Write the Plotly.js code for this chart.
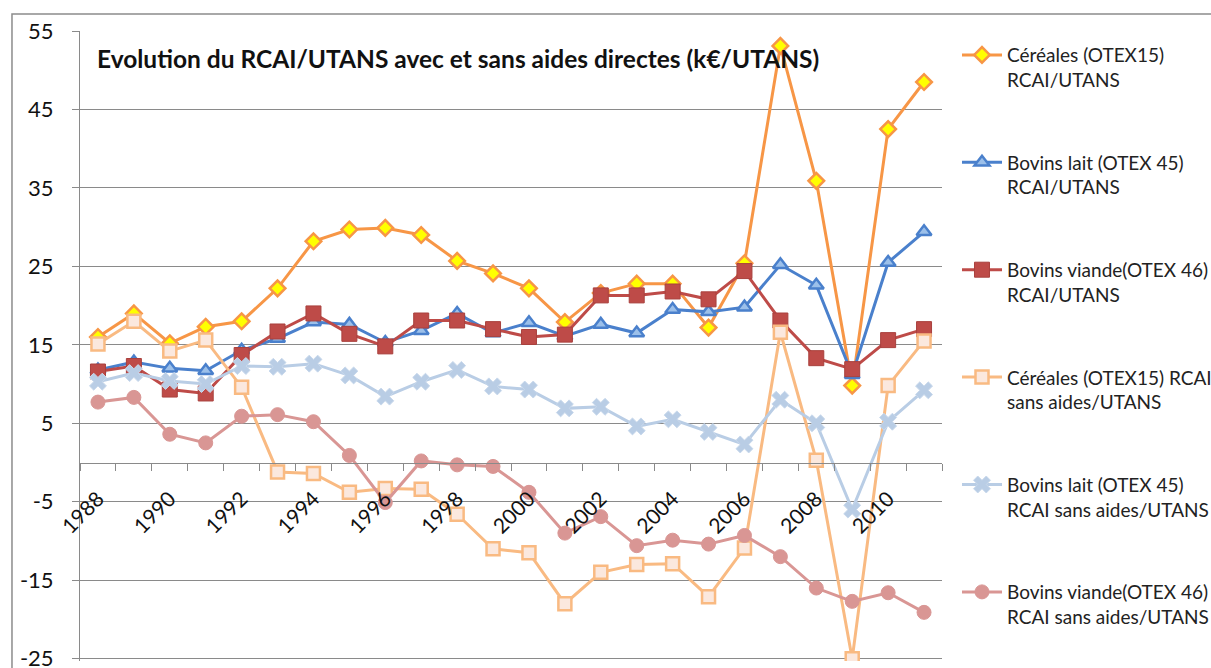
<!DOCTYPE html>
<html>
<head>
<meta charset="utf-8">
<script src="https://cdn.plot.ly/plotly-3.0.1.min.js"></script>
<style>
html,body{margin:0;padding:0;background:#fff;}
#chart{width:1211px;height:668px;}
</style>
</head>
<body>
<div id="chart"></div>
<script>
var years = [1988,1989,1990,1991,1992,1993,1994,1995,1996,1997,1998,1999,2000,2001,2002,2003,2004,2005,2006,2007,2008,2009,2010,2011];

var cerealesRcai = [16.0,19.0,15.2,17.3,18.0,22.2,28.2,29.7,29.9,29.0,25.7,24.1,22.2,17.9,21.6,22.8,22.8,17.2,25.4,53.1,35.9,9.8,42.5,48.5];
var laitRcai = [11.8,12.8,12.0,11.7,14.3,15.8,17.9,17.6,15.3,16.8,19.0,16.5,17.8,16.1,17.6,16.5,19.5,19.2,19.8,25.2,22.6,11.2,25.5,29.4];
var viandeRcai = [11.6,12.3,9.3,8.8,13.7,16.7,19.0,16.4,14.8,18.1,18.1,17.0,16.0,16.3,21.3,21.3,21.8,20.8,24.4,18.1,13.3,11.9,15.6,17.0];
var cerealesSans = [15.1,18.0,14.2,15.6,9.6,-1.2,-1.4,-3.8,-3.3,-3.4,-6.6,-11.0,-11.5,-18.0,-14.0,-13.0,-12.9,-17.1,-10.9,16.6,0.3,-25.0,9.8,15.5];
var laitSans = [10.3,11.4,10.4,10.0,12.3,12.2,12.6,11.1,8.4,10.3,11.8,9.7,9.3,6.9,7.1,4.6,5.5,3.9,2.3,8.0,5.0,-6.0,5.2,9.2];
var viandeSans = [7.7,8.3,3.6,2.5,5.9,6.1,5.2,0.9,-5.1,0.2,-0.3,-0.5,-3.8,-9.0,-6.9,-10.6,-9.9,-10.4,-9.3,-12.0,-16.0,-17.7,-16.6,-19.1];

var seriesNames = [
  "Céréales (OTEX15)<br>RCAI/UTANS",
  "Bovins lait (OTEX 45)<br>RCAI/UTANS",
  "Bovins viande(OTEX 46)<br>RCAI/UTANS",
  "Céréales (OTEX15) RCAI<br>sans aides/UTANS",
  "Bovins lait (OTEX 45)<br>RCAI sans aides/UTANS",
  "Bovins viande(OTEX 46)<br>RCAI sans aides/UTANS"
];

var xTickVals = [1988,1990,1992,1994,1996,1998,2000,2002,2004,2006,2008,2010];
var xTickText = ["1988","1990","1992","1994","1996","1998","2000","2002","2004","2006","2008","2010"];
var yTickVals = [-25,-15,-5,5,15,25,35,45,55];
var yTickText = ["-25","-15","-5","5","15","25","35","45","55"];

var titleText = "Evolution du RCAI/UTANS avec et sans aides directes (k€/UTANS)";

function tr(y, name, lineColor, marker, grp) {
  return {
    x: years, y: y, name: name, type: 'scatter', mode: 'lines+markers',
    line: {color: lineColor, width: 3},
    marker: marker, legendgroup: grp
  };
}

var data = [
  tr(cerealesRcai, seriesNames[0], '#F79646', {symbol:'diamond', size:12, color:'#FFFF00', line:{color:'#F79646', width:2.5}}, 'g1'),
  tr(laitRcai, seriesNames[1], '#4A80CC', {symbol:'triangle-up', size:13, color:'#9CC0EA', line:{color:'#4A80CC', width:2.5}}, 'g2'),
  tr(viandeRcai, seriesNames[2], '#BE4B48', {symbol:'square', size:15, color:'#BE4B48', line:{color:'#A9403D', width:1}}, 'g3'),
  tr(cerealesSans, seriesNames[3], '#F9BA82', {symbol:'square', size:13, color:'#FBE8DE', line:{color:'#F9BA82', width:2.5}}, 'g4'),
  tr(laitSans, seriesNames[4], '#B9CDE5', {symbol:'x', size:15, color:'#B9CDE5', line:{color:'#C9D9EC', width:1}}, 'g5'),
  tr(viandeSans, seriesNames[5], '#D99694', {symbol:'circle', size:14, color:'#D99694', line:{color:'#D99694', width:1}}, 'g6')
];

var layout = {
  width: 1211, height: 668,
  margin: {l: 80, r: 269, t: 31, b: 6.6, autoexpand: false},
  paper_bgcolor: '#ffffff', plot_bgcolor: '#ffffff',
  font: {family: 'Lato, "Open Sans", sans-serif', color: '#1a1a1a', size: 20},
  title: {
    text: '<b>' + titleText + '</b>',
    xref: 'paper', x: 0.0197, xanchor: 'left',
    yref: 'paper', y: 0.955, yanchor: 'middle',
    font: {family: 'Lato, "Open Sans", sans-serif', size: 24.5, color: '#111111'}
  },
  showlegend: true,
  legend: {
    x: 1.0174, xanchor: 'left', y: 0.992, yanchor: 'top',
    font: {family: 'Lato, "Open Sans", sans-serif', size: 19, color: '#222222'},
    valign: 'top', tracegroupgap: 55, itemwidth: 40,
    bgcolor: 'rgba(0,0,0,0)'
  },
  xaxis: {
    type: 'linear', range: [1987.5, 2011.5],
    anchor: 'free', position: 0.3137,
    showgrid: false, zeroline: false,
    showline: true, linecolor: '#8a8a8a', linewidth: 1,
    tickmode: 'array', tickvals: xTickVals, ticktext: xTickText,
    ticks: 'outside', ticklen: 14, tickcolor: 'rgba(0,0,0,0)', tickangle: -45,
    tickfont: {family: 'Lato, "Open Sans", sans-serif', size: 21, color: '#111111'},
    minor: {tick0: 1987.5, dtick: 1, ticks: 'outside', ticklen: 7, tickcolor: '#8a8a8a', tickwidth: 1, showgrid: false}
  },
  yaxis: {
    range: [-25.3, 55],
    tickmode: 'array', tickvals: yTickVals, ticktext: yTickText,
    ticklabeloverflow: 'allow',
    showgrid: true, gridcolor: '#8a8a8a', gridwidth: 1,
    zeroline: false,
    showline: true, linecolor: '#8a8a8a', linewidth: 1,
    ticks: 'outside', ticklen: 7, tickcolor: '#8a8a8a',
    ticklabelstandoff: 14,
    tickfont: {family: 'Lato, "Open Sans", sans-serif', size: 22, color: '#111111'}
  },
  shapes: [{
    type: 'rect', xref: 'paper', yref: 'paper',
    x0: -0.0789, x1: 1.32, y0: -0.05, y1: 1.027,
    line: {color: '#8c8c8c', width: 1.5}, fillcolor: 'rgba(0,0,0,0)', layer: 'below'
  }]
};

Plotly.newPlot('chart', data, layout, {displayModeBar: false, staticPlot: true});
</script>
</body>
</html>
